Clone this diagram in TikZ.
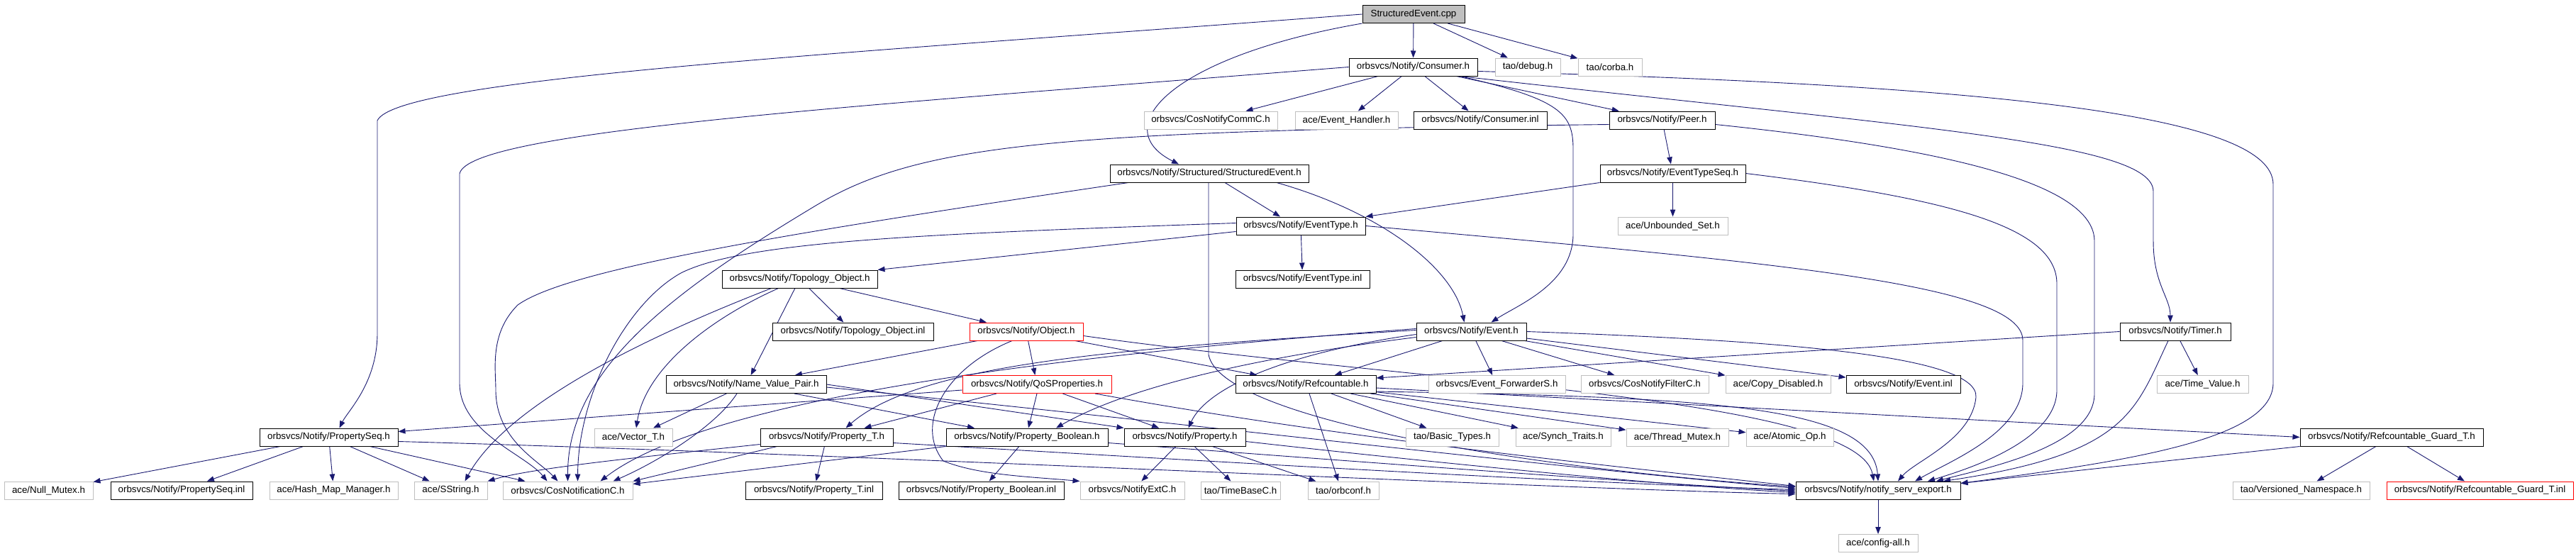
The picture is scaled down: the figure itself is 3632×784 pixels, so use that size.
\documentclass[tikz,border=0pt]{standalone}
\usepackage{fontspec}
\setmainfont{Liberation Sans}
\usetikzlibrary{arrows.meta,backgrounds}
\definecolor{edgecol}{HTML}{191970}
\definecolor{graybox}{HTML}{BFBFBF}
\begin{document}
\begin{tikzpicture}[x=1pt,y=-1pt,
  nd/.style={rectangle, inner sep=0pt, minimum height=25pt, fill=white,
    font=\fontsize{13.33}{16}\selectfont, line width=1pt},
  blk/.style={nd, draw=black},
  gry/.style={nd, draw=graybox},
  redb/.style={nd, draw=red},
  rootn/.style={nd, draw=black, fill=graybox},
  e/.style={draw=edgecol, line width=0.9pt, -{Triangle[length=10pt,width=7.5pt]}}]
\useasboundingbox (0,0) rectangle (3632,784);
% rank 1-3
\node[rootn, minimum width=144pt] (cpp) at (1993,20) {StructuredEvent.cpp};
\node[blk, minimum width=181pt] (cons) at (1992.5,94.5) {orbsvcs/Notify/Consumer.h};
\node[gry, minimum width=92pt] (debug) at (2154,94.5) {tao/debug.h};
\node[gry, minimum width=90pt] (corba) at (2270,94.5) {tao/corba.h};
\node[gry, minimum width=188pt] (commc) at (1707,169.5) {orbsvcs/CosNotifyCommC.h};
\node[gry, minimum width=145pt] (evh) at (1898.5,169.5) {ace/Event\_Handler.h};
\node[blk, minimum width=188pt] (consinl) at (2087,169.5) {orbsvcs/Notify/Consumer.inl};
\node[blk, minimum width=149pt] (peer) at (2343.5,169.5) {orbsvcs/Notify/Peer.h};
% rank 4-6
\node[blk, minimum width=280pt] (sevh) at (1705,244.5) {orbsvcs/Notify/Structured/StructuredEvent.h};
\node[blk, minimum width=205pt] (etseq) at (2358.5,244.5) {orbsvcs/Notify/EventTypeSeq.h};
\node[blk, minimum width=182pt] (eth) at (1834,318.5) {orbsvcs/Notify/EventType.h};
\node[gry, minimum width=155pt] (unb) at (2358.5,318.5) {ace/Unbounded\_Set.h};
\node[blk, minimum width=219pt] (topo) at (1127.5,393.5) {orbsvcs/Notify/Topology\_Object.h};
\node[blk, minimum width=189pt] (etinl) at (1836.5,393.5) {orbsvcs/Notify/EventType.inl};
% rank 7
\node[blk, minimum width=227pt] (topoinl) at (1202.5,467.5) {orbsvcs/Notify/Topology\_Object.inl};
\node[redb, minimum width=160pt] (obj) at (1447,467.5) {orbsvcs/Notify/Object.h};
\node[blk, minimum width=155pt] (evt) at (2074.5,467.5) {orbsvcs/Notify/Event.h};
\node[blk, minimum width=156pt] (timer) at (3067,467.5) {orbsvcs/Notify/Timer.h};
% rank 8
\node[blk, minimum width=226pt] (nvp) at (1052,542) {orbsvcs/Notify/Name\_Value\_Pair.h};
\node[redb, minimum width=210pt] (qos) at (1462,542) {orbsvcs/Notify/QoSProperties.h};
\node[blk, minimum width=198pt] (ref) at (1841,542) {orbsvcs/Notify/Refcountable.h};
\node[gry, minimum width=193pt] (fwd) at (2110.5,542) {orbsvcs/Event\_ForwarderS.h};
\node[gry, minimum width=180pt] (filt) at (2319,542) {orbsvcs/CosNotifyFilterC.h};
\node[gry, minimum width=148pt] (copy) at (2507,542) {ace/Copy\_Disabled.h};
\node[blk, minimum width=161pt] (evinl) at (2683.5,542) {orbsvcs/Notify/Event.inl};
\node[gry, minimum width=129pt] (tv) at (3105.5,542) {ace/Time\_Value.h};
% rank 9
\node[blk, minimum width=195pt] (pseq) at (463.5,616.5) {orbsvcs/Notify/PropertySeq.h};
\node[gry, minimum width=110pt] (vec) at (893,616.5) {ace/Vector\_T.h};
\node[blk, minimum width=187pt] (propt) at (1165.5,616.5) {orbsvcs/Notify/Property\_T.h};
\node[blk, minimum width=228pt] (propb) at (1448,616.5) {orbsvcs/Notify/Property\_Boolean.h};
\node[blk, minimum width=171pt] (prop) at (1670.5,616.5) {orbsvcs/Notify/Property.h};
\node[gry, minimum width=131pt] (basic) at (2047.5,616.5) {tao/Basic\_Types.h};
\node[gry, minimum width=134pt] (synch) at (2204,616.5) {ace/Synch\_Traits.h};
\node[gry, minimum width=144pt] (tmutex) at (2365,616.5) {ace/Thread\_Mutex.h};
\node[gry, minimum width=123pt] (atomic) at (2523.5,616.5) {ace/Atomic\_Op.h};
\node[blk, minimum width=258pt] (guard) at (3372,616.5) {orbsvcs/Notify/Refcountable\_Guard\_T.h};
% rank 10
\node[gry, minimum width=125pt] (nullm) at (68.5,691.5) {ace/Null\_Mutex.h};
\node[blk, minimum width=200pt] (pseqinl) at (256,691.5) {orbsvcs/Notify/PropertySeq.inl};
\node[gry, minimum width=181pt] (hash) at (470.5,691.5) {ace/Hash\_Map\_Manager.h};
\node[gry, minimum width=103pt] (sstr) at (635.5,691.5) {ace/SString.h};
\node[gry, minimum width=183pt] (cosn) at (800.5,691.5) {orbsvcs/CosNotificationC.h};
\node[blk, minimum width=193pt] (proptinl) at (1147.5,691.5) {orbsvcs/Notify/Property\_T.inl};
\node[blk, minimum width=233pt] (propbinl) at (1383.5,691.5) {orbsvcs/Notify/Property\_Boolean.inl};
\node[gry, minimum width=147pt] (extc) at (1596.5,691.5) {orbsvcs/NotifyExtC.h};
\node[gry, minimum width=112pt] (tbase) at (1749,691.5) {tao/TimeBaseC.h};
\node[gry, minimum width=100pt] (orbconf) at (1894,691.5) {tao/orbconf.h};
\node[blk, minimum width=232pt] (nse) at (2648,691.5) {orbsvcs/Notify/notify\_serv\_export.h};
\node[gry, minimum width=193pt] (vns) at (3244.5,691.5) {tao/Versioned\_Namespace.h};
\node[redb, minimum width=263pt] (guardinl) at (3496.5,691.5) {orbsvcs/Notify/Refcountable\_Guard\_T.inl};
% rank 11
\node[gry, minimum width=112pt] (cfg) at (2648,766) {ace/config-all.h};

\begin{pgfonlayer}{background}
% StructuredEvent.cpp
\draw[e] (cpp) -- (cons);
\draw[e] (cpp) -- (debug);
\draw[e] (cpp) -- (corba);
\draw[e] (cpp.south west) .. controls (1650,80) and (1560,180) .. ([xshift=-43]sevh.north);
\draw[e] (cpp.west) .. controls (1200,75) and (560,110) .. (532,170) -- (532,470) .. controls (532,540) and (490,580) .. ([xshift=15]pseq.north);
% Consumer.h
\draw[e] (cons) -- (commc);
\draw[e] (cons) -- (evh);
\draw[e] (cons) -- (consinl);
\draw[e] (cons) -- (peer);
\draw[e] (cons.west) .. controls (1200,150) and (660,185) .. (648,245) -- (648,540) .. controls (648,610) and (740,640) .. ([xshift=-29]cosn.north);
\draw[e] ([xshift=66]cons.south) .. controls (2200,140) and (2218,160) .. (2218,210) -- (2218,330) .. controls (2218,400) and (2140,430) .. ([xshift=28]evt.north);
\draw[e] ([yshift=-6]cons.east) .. controls (2800,120) and (3205,160) .. (3205,260) -- (3205,540) .. controls (3205,620) and (3000,650) .. ([yshift=-3]nse.north east);
\draw[e] ([xshift=66]cons.south) .. controls (2700,180) and (3036,200) .. (3036,270) -- (3036,340) .. controls (3036,400) and (3060,420) .. ([xshift=-7]timer.north);
% Peer.h
\draw[e] (peer) -- (etseq);
\draw[e] ([yshift=-6]peer.east) .. controls (2750,210) and (2953,260) .. (2953,340) -- (2953,555) .. controls (2953,630) and (2800,660) .. ([xshift=82]nse.north);
\draw[e] ([yshift=-6]peer.west) .. controls (1500,185) and (1300,200) .. (1150,290) .. controls (950,410) and (800,520) .. ([xshift=0]cosn.north);
% EventTypeSeq.h
\draw[e] (etseq.south west) -- (eth.north east);
\draw[e] (etseq) -- (unb);
\draw[e] (etseq.east) .. controls (2750,280) and (2900,320) .. (2900,400) -- (2900,550) .. controls (2900,620) and (2780,660) .. ([xshift=70]nse.north);
% StructuredEvent.h
\draw[e] ([xshift=22]sevh.south) -- ([xshift=-29]eth.north);
\draw[e] ([xshift=95]sevh.south) .. controls (1950,300) and (2050,380) .. ([xshift=-10]evt.north);
\draw[e] ([xshift=-1]sevh.south) -- (1704,500) .. controls (1720,590) and (2150,660) .. ([yshift=5]nse.west);
\draw[e] ([xshift=-114]sevh.south) .. controls (1100,330) and (800,380) .. (730,430) .. controls (690,470) and (699,520) .. (699,550) .. controls (699,620) and (760,650) .. ([xshift=-14]cosn.north);
% EventType.h
\draw[e] ([yshift=-8]eth.west) -- (topo.north east);
\draw[e] (eth) -- (etinl);
\draw[e] ([yshift=4]eth.west) .. controls (1300,330) and (1050,340) .. (960,385) .. controls (880,430) and (815,560) .. ([xshift=14]cosn.north);
\draw[e] (eth.east) .. controls (2500,370) and (2852,400) .. (2852,480) -- (2852,540) .. controls (2852,610) and (2750,650) .. ([xshift=52]nse.north);
% Topology_Object.h
\draw[e] (topo) -- (topoinl);
\draw[e] (topo) -- (obj);
\draw[e] (topo) -- (nvp);
\draw[e] ([xshift=-40]topo.south) .. controls (950,460) and (720,560) .. ([xshift=20]sstr.north);
\draw[e] ([xshift=-30]topo.south) .. controls (1000,450) and (910,520) .. ([xshift=4]vec.north);
% Object.h
\draw[e] (obj) -- (nvp);
\draw[e] (obj) -- (qos);
\draw[e] (obj) -- (ref);
\draw[e] ([xshift=-20]obj.south) .. controls (1330,520) and (1290,600) .. (1330,650) .. controls (1380,670) and (1450,672) .. (extc.north west);
\draw[e] ([yshift=-6]obj.east) .. controls (2000,540) and (2620,560) .. ([xshift=-6]nse.north);
% Event.h
\draw[e] (evt) -- (ref);
\draw[e] (evt) -- (fwd);
\draw[e] (evt) -- (filt);
\draw[e] (evt) -- (copy);
\draw[e] (evt) -- (evinl);
\draw[e] (evt.east) .. controls (2500,480) and (2790,500) .. (2786,560) .. controls (2780,620) and (2700,650) .. ([xshift=28]nse.north);
\draw[e] ([yshift=2]evt.west) .. controls (1600,490) and (1300,510) .. ([xshift=27]propt.north);
\draw[e] ([yshift=4]evt.west) .. controls (1500,500) and (1000,560) .. ([xshift=46]cosn.north);
\draw[e] ([yshift=-8]evt.west) .. controls (1800,500) and (1600,540) .. ([xshift=41]propb.north);
\draw[e] ([yshift=-4]evt.west) .. controls (1800,500) and (1700,550) .. ([xshift=5]prop.north);
% Timer.h
\draw[e] (timer.west) -- ([yshift=9]ref.east);
\draw[e] (timer) -- (tv);
\draw[e] ([xshift=-10]timer.south) .. controls (3010,580) and (3000,640) .. ([xshift=92]nse.north);
% Refcountable.h
\draw[e] (ref) -- (basic);
\draw[e] (ref) -- (synch);
\draw[e] (ref) -- (tmutex);
\draw[e] (ref) -- (atomic);
\draw[e] ([xshift=5]ref.south) -- ([xshift=-7]orbconf.north);
\draw[e] ([yshift=-5]ref.east) -- (guard.west);
\draw[e] ([yshift=-10]ref.east) .. controls (2400,560) and (2640,570) .. (nse.north);
% Refcountable_Guard_T.h
\draw[e] (guard) -- (vns);
\draw[e] (guard) -- (guardinl);
\draw[e] (guard.south west) -- ([yshift=-3]nse.north east);
% QoSProperties.h
\draw[e] ([yshift=-8]qos.west) -- ([yshift=8]pseq.east);
\draw[e] ([xshift=-57]qos.south) -- ([xshift=53]propt.north);
\draw[e] (qos.south) -- ([xshift=2]propb.north);
\draw[e] (qos) -- (prop);
\draw[e] ([xshift=82]qos.south) .. controls (1900,620) and (2300,660) .. ([yshift=6]nse.west);
% Name_Value_Pair.h
\draw[e] (nvp) -- ([xshift=28]vec.north);
\draw[e] ([xshift=-13]nvp.south) .. controls (1010,600) and (930,650) .. ([xshift=64]cosn.north);
\draw[e] (nvp) -- ([xshift=-74]propb.north);
\draw[e] (nvp.east) -- (prop.north west);
\draw[e] ([yshift=-4]nvp.east) .. controls (1700,600) and (2200,660) .. ([yshift=3]nse.west);
% Property_T.h
\draw[e] (propt) -- (proptinl);
\draw[e] ([yshift=-10]propt.west) .. controls (900,645) and (750,660) .. (sstr.north east);
\draw[e] ([xshift=-70]propt.south) -- (cosn.north east);
\draw[e] ([yshift=-8]propt.east) .. controls (1700,650) and (2200,680) .. ([yshift=1]nse.west);
% Property_Boolean.h
\draw[e] (propb) -- (propbinl);
\draw[e] (propb.south west) -- ([yshift=9]cosn.east);
\draw[e] ([yshift=-8]propb.east) .. controls (1900,650) and (2300,680) .. ([yshift=-1]nse.west);
% Property.h
\draw[e] (prop) -- (extc);
\draw[e] (prop) -- (tbase);
\draw[e] (prop) -- (orbconf);
\draw[e] ([yshift=-6]prop.east) .. controls (2000,650) and (2350,685) .. ([yshift=-3]nse.west);
% PropertySeq.h
\draw[e] (pseq) -- (nullm);
\draw[e] (pseq) -- (pseqinl);
\draw[e] (pseq) -- (hash);
\draw[e] (pseq) -- (sstr);
\draw[e] (pseq) -- ([xshift=-60]cosn.north);
\draw[e] ([yshift=-6]pseq.east) .. controls (1200,640) and (2200,690) .. ([yshift=-5]nse.west);
% notify_serv_export.h
\draw[e] (nse) -- (cfg);
\end{pgfonlayer}
\end{tikzpicture}
\end{document}
